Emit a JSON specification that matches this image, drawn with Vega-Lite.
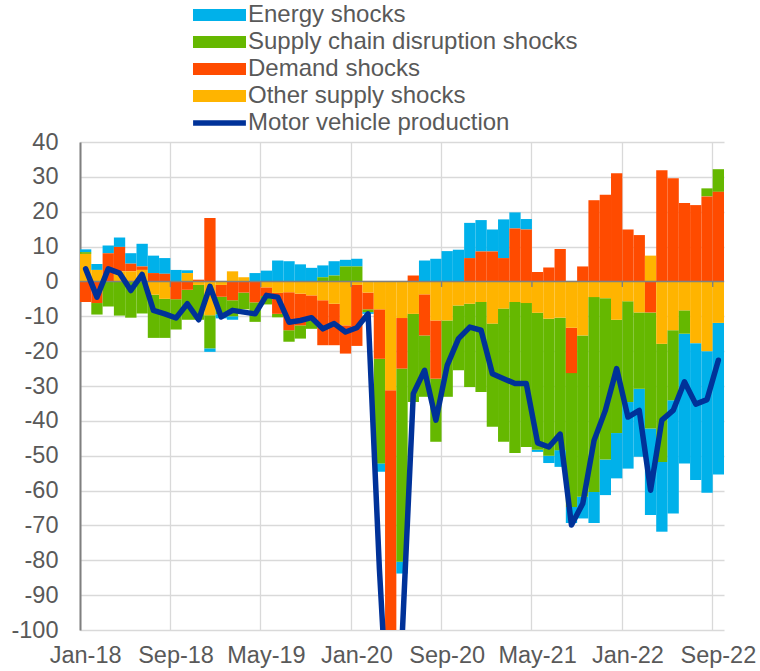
{
  "$schema": "https://vega.github.io/schema/vega-lite/v6.json",
  "width": 644,
  "height": 488,
  "autosize": {"type": "none"},
  "padding": {"left": 80, "top": 142, "right": 36, "bottom": 41},
  "background": "white",
  "config": {"view": {"stroke": null}, "font": "Liberation Sans"},
  "datasets": {
    "rank": [
      {"series": "Other supply shocks", "rank": 1},
      {"series": "Demand shocks", "rank": 2},
      {"series": "Supply chain disruption shocks", "rank": 3},
      {"series": "Energy shocks", "rank": 4}
    ],
    "d": [
      {"m":"Jan-18","Energy shocks":0.8,"Supply chain disruption shocks":0.5,"Demand shocks":-5.9,"Other supply shocks":7.9,"Motor vehicle production":3.6},
      {"m":"Feb-18","Energy shocks":1.7,"Supply chain disruption shocks":-3.3,"Demand shocks":-6.2,"Other supply shocks":3.3,"Motor vehicle production":-4.5},
      {"m":"Mar-18","Energy shocks":2.2,"Supply chain disruption shocks":-7.2,"Demand shocks":8.1,"Other supply shocks":0,"Motor vehicle production":3.6},
      {"m":"Apr-18","Energy shocks":2.7,"Supply chain disruption shocks":-9.8,"Demand shocks":7.0,"Other supply shocks":2.9,"Motor vehicle production":2.4},
      {"m":"May-18","Energy shocks":3.0,"Supply chain disruption shocks":-10.4,"Demand shocks":2.2,"Other supply shocks":2.9,"Motor vehicle production":-2.6},
      {"m":"Jun-18","Energy shocks":6.5,"Supply chain disruption shocks":-9.2,"Demand shocks":1.0,"Other supply shocks":3.3,"Motor vehicle production":2.0},
      {"m":"Jul-18","Energy shocks":5.0,"Supply chain disruption shocks":-12.4,"Demand shocks":2.4,"Other supply shocks":-3.8,"Motor vehicle production":-8.3},
      {"m":"Aug-18","Energy shocks":4.5,"Supply chain disruption shocks":-11.2,"Demand shocks":2.2,"Other supply shocks":-5.0,"Motor vehicle production":-9.3},
      {"m":"Sep-18","Energy shocks":3.3,"Supply chain disruption shocks":-8.7,"Demand shocks":-5.1,"Other supply shocks":0,"Motor vehicle production":-10.5},
      {"m":"Oct-18","Energy shocks":0.8,"Supply chain disruption shocks":-8.6,"Demand shocks":-2.4,"Other supply shocks":2.4,"Motor vehicle production":-6.4},
      {"m":"Nov-18","Energy shocks":0,"Supply chain disruption shocks":-10.0,"Demand shocks":0.5,"Other supply shocks":-1.0,"Motor vehicle production":-11.0},
      {"m":"Dec-18","Energy shocks":-1.0,"Supply chain disruption shocks":-9.5,"Demand shocks":18.2,"Other supply shocks":-9.7,"Motor vehicle production":-1.4},
      {"m":"Jan-19","Energy shocks":-1.2,"Supply chain disruption shocks":-5.0,"Demand shocks":-3.4,"Other supply shocks":-1.0,"Motor vehicle production":-10.2},
      {"m":"Feb-19","Energy shocks":-1.0,"Supply chain disruption shocks":-4.6,"Demand shocks":-5.4,"Other supply shocks":2.9,"Motor vehicle production":-8.3},
      {"m":"Mar-19","Energy shocks":0,"Supply chain disruption shocks":-4.8,"Demand shocks":-3.2,"Other supply shocks":1.2,"Motor vehicle production":-8.8},
      {"m":"Apr-19","Energy shocks":2.4,"Supply chain disruption shocks":-5.6,"Demand shocks":-6.0,"Other supply shocks":0,"Motor vehicle production":-9.3},
      {"m":"May-19","Energy shocks":3.1,"Supply chain disruption shocks":-2.4,"Demand shocks":-2.5,"Other supply shocks":-1.7,"Motor vehicle production":-4.0},
      {"m":"Jun-19","Energy shocks":6.0,"Supply chain disruption shocks":-1.0,"Demand shocks":-6.0,"Other supply shocks":-3.3,"Motor vehicle production":-4.5},
      {"m":"Jul-19","Energy shocks":5.8,"Supply chain disruption shocks":-3.3,"Demand shocks":-10.9,"Other supply shocks":-3.1,"Motor vehicle production":-11.7},
      {"m":"Aug-19","Energy shocks":4.9,"Supply chain disruption shocks":-3.8,"Demand shocks":-9.1,"Other supply shocks":-3.5,"Motor vehicle production":-11.2},
      {"m":"Sep-19","Energy shocks":3.9,"Supply chain disruption shocks":-2.4,"Demand shocks":-7.2,"Other supply shocks":-4.0,"Motor vehicle production":-10.4},
      {"m":"Oct-19","Energy shocks":3.4,"Supply chain disruption shocks":1.2,"Demand shocks":-12.9,"Other supply shocks":-5.4,"Motor vehicle production":-13.6},
      {"m":"Nov-19","Energy shocks":4.1,"Supply chain disruption shocks":1.7,"Demand shocks":-11.9,"Other supply shocks":-6.4,"Motor vehicle production":-12.1},
      {"m":"Dec-19","Energy shocks":1.9,"Supply chain disruption shocks":4.3,"Demand shocks":-8.1,"Other supply shocks":-12.6,"Motor vehicle production":-14.5},
      {"m":"Jan-20","Energy shocks":2.2,"Supply chain disruption shocks":4.3,"Demand shocks":-17.5,"Other supply shocks":-1.0,"Motor vehicle production":-13.3},
      {"m":"Feb-20","Energy shocks":-0.5,"Supply chain disruption shocks":-0.8,"Demand shocks":-4.8,"Other supply shocks":-3.2,"Motor vehicle production":-9.3},
      {"m":"Mar-20","Energy shocks":-2.4,"Supply chain disruption shocks":-30.0,"Demand shocks":-14.2,"Other supply shocks":-8.0,"Motor vehicle production":-82.5},
      {"m":"Apr-20","Energy shocks":0,"Supply chain disruption shocks":0,"Demand shocks":-90.0,"Other supply shocks":-31.2,"Motor vehicle production":-140.0},
      {"m":"May-20","Energy shocks":-3.4,"Supply chain disruption shocks":-55.4,"Demand shocks":-14.5,"Other supply shocks":-10.5,"Motor vehicle production":-103.0},
      {"m":"Jun-20","Energy shocks":0,"Supply chain disruption shocks":-25.3,"Demand shocks":1.7,"Other supply shocks":-9.3,"Motor vehicle production":-32.2},
      {"m":"Jul-20","Energy shocks":6.0,"Supply chain disruption shocks":-17.6,"Demand shocks":-11.8,"Other supply shocks":-3.7,"Motor vehicle production":-25.5},
      {"m":"Aug-20","Energy shocks":6.5,"Supply chain disruption shocks":-18.1,"Demand shocks":-16.7,"Other supply shocks":-11.2,"Motor vehicle production":-39.8},
      {"m":"Sep-20","Energy shocks":8.7,"Supply chain disruption shocks":-21.9,"Demand shocks":0,"Other supply shocks":-11.2,"Motor vehicle production":-24.1},
      {"m":"Oct-20","Energy shocks":9.1,"Supply chain disruption shocks":-18.6,"Demand shocks":0,"Other supply shocks":-6.9,"Motor vehicle production":-16.4},
      {"m":"Nov-20","Energy shocks":10.1,"Supply chain disruption shocks":-23.9,"Demand shocks":6.7,"Other supply shocks":-6.4,"Motor vehicle production":-13.1},
      {"m":"Dec-20","Energy shocks":9.0,"Supply chain disruption shocks":-25.8,"Demand shocks":8.6,"Other supply shocks":-5.9,"Motor vehicle production":-14.0},
      {"m":"Jan-21","Energy shocks":6.3,"Supply chain disruption shocks":-29.6,"Demand shocks":8.6,"Other supply shocks":-12.1,"Motor vehicle production":-26.5},
      {"m":"Feb-21","Energy shocks":11.1,"Supply chain disruption shocks":-38.2,"Demand shocks":6.7,"Other supply shocks":-7.8,"Motor vehicle production":-27.9},
      {"m":"Mar-21","Energy shocks":4.6,"Supply chain disruption shocks":-43.3,"Demand shocks":15.2,"Other supply shocks":-5.9,"Motor vehicle production":-29.3},
      {"m":"Apr-21","Energy shocks":3.0,"Supply chain disruption shocks":-41.3,"Demand shocks":14.9,"Other supply shocks":-6.2,"Motor vehicle production":-29.3},
      {"m":"May-21","Energy shocks":-0.6,"Supply chain disruption shocks":-39.3,"Demand shocks":2.7,"Other supply shocks":-9.0,"Motor vehicle production":-46.3},
      {"m":"Jun-21","Energy shocks":-2.1,"Supply chain disruption shocks":-39.3,"Demand shocks":4.0,"Other supply shocks":-10.7,"Motor vehicle production":-47.5},
      {"m":"Jul-21","Energy shocks":-4.8,"Supply chain disruption shocks":-38.0,"Demand shocks":9.3,"Other supply shocks":-10.4,"Motor vehicle production":-43.8},
      {"m":"Aug-21","Energy shocks":-4.6,"Supply chain disruption shocks":-38.4,"Demand shocks":-13.0,"Other supply shocks":-13.3,"Motor vehicle production":-69.9},
      {"m":"Sep-21","Energy shocks":-6.2,"Supply chain disruption shocks":-46.3,"Demand shocks":4.3,"Other supply shocks":-15.5,"Motor vehicle production":-63.7},
      {"m":"Oct-21","Energy shocks":-8.9,"Supply chain disruption shocks":-55.9,"Demand shocks":23.3,"Other supply shocks":-4.5,"Motor vehicle production":-45.6},
      {"m":"Nov-21","Energy shocks":-10.2,"Supply chain disruption shocks":-46.3,"Demand shocks":24.9,"Other supply shocks":-4.8,"Motor vehicle production":-37.0},
      {"m":"Dec-21","Energy shocks":-13.0,"Supply chain disruption shocks":-32.5,"Demand shocks":31.0,"Other supply shocks":-11.0,"Motor vehicle production":-25.0},
      {"m":"Jan-22","Energy shocks":-19.1,"Supply chain disruption shocks":-28.9,"Demand shocks":14.9,"Other supply shocks":-5.7,"Motor vehicle production":-38.9},
      {"m":"Feb-22","Energy shocks":-19.5,"Supply chain disruption shocks":-21.9,"Demand shocks":13.3,"Other supply shocks":-8.9,"Motor vehicle production":-37.0},
      {"m":"Mar-22","Energy shocks":-24.8,"Supply chain disruption shocks":-33.3,"Demand shocks":-8.9,"Other supply shocks":7.4,"Motor vehicle production":-59.9},
      {"m":"Apr-22","Energy shocks":-20.0,"Supply chain disruption shocks":-33.9,"Demand shocks":31.9,"Other supply shocks":-17.9,"Motor vehicle production":-39.8},
      {"m":"May-22","Energy shocks":-32.5,"Supply chain disruption shocks":-20.1,"Demand shocks":29.6,"Other supply shocks":-14.0,"Motor vehicle production":-37.0},
      {"m":"Jun-22","Energy shocks":-37.2,"Supply chain disruption shocks":-6.7,"Demand shocks":22.5,"Other supply shocks":-8.3,"Motor vehicle production":-28.8},
      {"m":"Jul-22","Energy shocks":-39.3,"Supply chain disruption shocks":0,"Demand shocks":21.9,"Other supply shocks":-17.7,"Motor vehicle production":-35.2},
      {"m":"Aug-22","Energy shocks":-40.6,"Supply chain disruption shocks":2.3,"Demand shocks":24.4,"Other supply shocks":-20.0,"Motor vehicle production":-33.9},
      {"m":"Sep-22","Energy shocks":-43.5,"Supply chain disruption shocks":6.5,"Demand shocks":25.7,"Other supply shocks":-11.9,"Motor vehicle production":-22.6}
    ]
  },
  "data": {"name": "d"},
  "layer": [
    {
      "mark": {"type": "bar", "clip": true},
      "transform": [
        {"fold": ["Energy shocks", "Supply chain disruption shocks", "Demand shocks", "Other supply shocks"], "as": ["series", "value"]},
        {"lookup": "series", "from": {"data": {"name": "rank"}, "key": "series", "fields": ["rank"]}}
      ],
      "encoding": {
        "x": {
          "field": "m", "type": "ordinal", "sort": null,
          "scale": {"paddingInner": 0, "paddingOuter": 0},
          "axis": {
            "values": ["Jan-18", "Sep-18", "May-19", "Jan-20", "Sep-20", "May-21", "Jan-22", "Sep-22"],
            "title": null, "bandPosition": 0, "grid": true,
            "gridColor": "#D9D9D9", "gridWidth": 1.3, "domain": false, "ticks": false,
            "labelAngle": 0, "labelPadding": 13, "labelFontSize": 23.5, "labelColor": "#595959",
            "labelFont": "Liberation Sans", "labelOverlap": false
          }
        },
        "y": {
          "field": "value", "type": "quantitative", "stack": "zero",
          "scale": {"domain": [-100, 40], "nice": false},
          "axis": {
            "values": [-100, -90, -80, -70, -60, -50, -40, -30, -20, -10, 0, 10, 20, 30, 40],
            "tickCount": 15,
            "labelExpr": "'' + datum.value", "labelOverlap": false,
            "title": null, "grid": true, "gridColor": "#D9D9D9", "gridWidth": 1.3,
            "domainColor": "#7F7F7F", "domainWidth": 2, "ticks": false, "labelPadding": 22,
            "labelFontSize": 23.5, "labelColor": "#595959", "labelFont": "Liberation Sans"
          }
        },
        "order": {"field": "rank", "type": "quantitative", "sort": "ascending"},
        "color": {
          "field": "series", "type": "nominal",
          "scale": {
            "domain": ["Energy shocks", "Supply chain disruption shocks", "Demand shocks", "Other supply shocks", "Motor vehicle production"],
            "range": ["#00B1EA", "#65B800", "#FF4B00", "#FFB400", "#003299"]
          },
          "legend": {
            "orient": "none", "legendX": 127.5, "legendY": -139, "direction": "vertical",
            "title": null, "padding": 0, "labelFont": "Liberation Sans", "labelFontSize": 24,
            "labelColor": "#595959", "labelOffset": 16.5, "symbolSize": 144, "symbolStrokeWidth": 0,
            "rowPadding": 3, "labelLimit": 0, "symbolOpacity": 1,
            "values": ["Energy shocks", "Supply chain disruption shocks", "Demand shocks", "Other supply shocks", "Motor vehicle production"],
            "symbolType": "M-4.417,-1H4.417V1H-4.417Z",
            "encode": {"symbols": {"update": {"shape": {"signal": "datum.value === 'Motor vehicle production' ? 'M-4.4,-0.45H4.4V0.45H-4.4Z' : 'M-4.417,-1H4.417V1H-4.417Z'"}}}}
          }
        }
      }
    },
    {
      "data": {"values": [{}]},
      "mark": {"type": "rule", "color": "#808080", "strokeWidth": 1.4},
      "encoding": {
        "y": {
          "datum": 0, "type": "quantitative",
          "axis": {
            "values": [-100, -90, -80, -70, -60, -50, -40, -30, -20, -10, 0, 10, 20, 30, 40],
            "tickCount": 15,
            "labelExpr": "'' + datum.value", "labelOverlap": false,
            "title": null, "grid": true, "gridColor": "#D9D9D9", "gridWidth": 1.3,
            "domainColor": "#7F7F7F", "domainWidth": 2, "ticks": false, "labelPadding": 22,
            "labelFontSize": 23.5, "labelColor": "#595959", "labelFont": "Liberation Sans"
          }
        }
      }
    },
    {
      "transform": [{"filter": {"field": "m", "oneOf": ["Sep-18", "May-19", "Jan-20", "Sep-20", "May-21", "Jan-22", "Sep-22"]}}],
      "mark": {"type": "rule", "color": "#808080", "strokeWidth": 1.4},
      "encoding": {
        "x": {"field": "m", "type": "ordinal", "sort": null, "bandPosition": 0},
        "y": {
          "datum": 0, "type": "quantitative",
          "axis": {
            "values": [-100, -90, -80, -70, -60, -50, -40, -30, -20, -10, 0, 10, 20, 30, 40],
            "tickCount": 15,
            "labelExpr": "'' + datum.value", "labelOverlap": false,
            "title": null, "grid": true, "gridColor": "#D9D9D9", "gridWidth": 1.3,
            "domainColor": "#7F7F7F", "domainWidth": 2, "ticks": false, "labelPadding": 22,
            "labelFontSize": 23.5, "labelColor": "#595959", "labelFont": "Liberation Sans"
          }
        },
        "y2": {"datum": -1.6}
      }
    },
    {
      "mark": {"type": "line", "clip": true, "strokeWidth": 5.5, "strokeJoin": "round", "strokeCap": "round", "color": "#003299"},
      "encoding": {
        "x": {"field": "m", "type": "ordinal", "sort": null},
        "y": {
          "field": "Motor vehicle production", "type": "quantitative",
          "axis": {
            "values": [-100, -90, -80, -70, -60, -50, -40, -30, -20, -10, 0, 10, 20, 30, 40],
            "tickCount": 15,
            "labelExpr": "'' + datum.value", "labelOverlap": false,
            "title": null, "grid": true, "gridColor": "#D9D9D9", "gridWidth": 1.3,
            "domainColor": "#7F7F7F", "domainWidth": 2, "ticks": false, "labelPadding": 22,
            "labelFontSize": 23.5, "labelColor": "#595959", "labelFont": "Liberation Sans"
          }
        }
      }
    }
  ]
}
